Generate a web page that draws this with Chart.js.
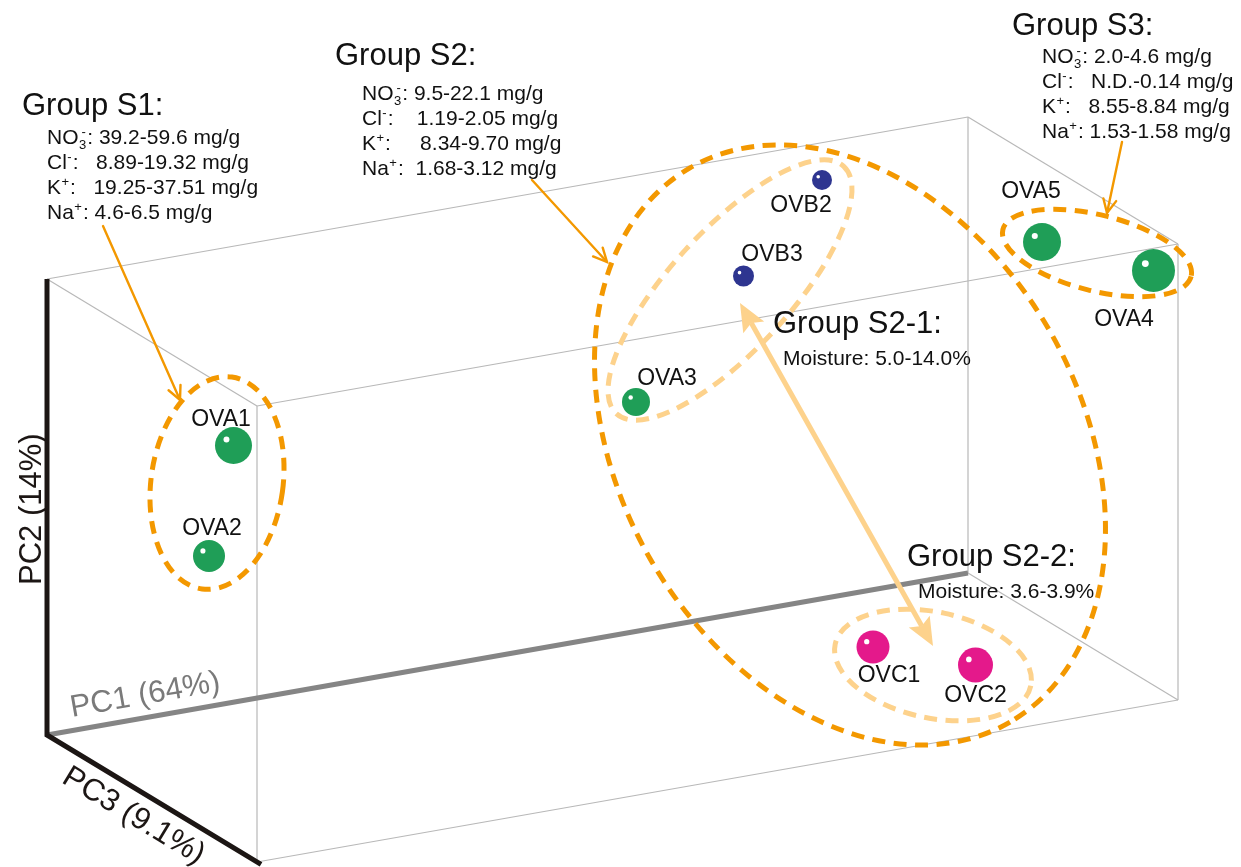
<!DOCTYPE html>
<html>
<head>
<meta charset="utf-8">
<script src="https://cdn.jsdelivr.net/npm/chart.js@4.4.1/dist/chart.umd.min.js"></script>
<style>
  html, body { margin: 0; padding: 0; background: #ffffff; }
  #wrap { width: 1241px; height: 867px; }
</style>
</head>
<body>
<div id="wrap"><canvas id="pca" width="1241" height="867"></canvas></div>
<script>
// ---- Sample scores, projected onto the drawing plane of the PC1/PC2/PC3 box ----
const sampleNames = ['OVA1', 'OVA2', 'OVA3', 'OVB3', 'OVB2', 'OVA5', 'OVA4', 'OVC1', 'OVC2'];
const sampleClass = ['A', 'A', 'A', 'B', 'B', 'A', 'A', 'C', 'C'];
const projX = [186.5, 162, 589, 696.5, 775, 995, 1106.5, 826, 928.5];
const projY = [289.5, 179, 333, 459, 555, 493, 464.5, 88, 70];

// ---- Axis titles (explained variance) ----
const axisTitles = ['PC1 (64%)', 'PC2 (14%)', 'PC3 (9.1%)'];

// ---- Ion contents of each group (mg/g) ----
const ionParts = [
  { base: 'NO', sub: '3', sup: '-' },
  { base: 'Cl', sup: '-' },
  { base: 'K', sup: '+' },
  { base: 'Na', sup: '+' }
];
const rangesS1 = ['39.2-59.6', '8.89-19.32', '19.25-37.51', '4.6-6.5'];
const rangesS2 = ['9.5-22.1', '1.19-2.05', '8.34-9.70', '1.68-3.12'];
const rangesS3 = ['2.0-4.6', 'N.D.-0.14', '8.55-8.84', '1.53-1.58'];
const moistureS21 = '5.0-14.0%';
const moistureS22 = '3.6-3.9%';

// ---- Styling ----
const FONT = '"Liberation Sans", Arial, Helvetica, sans-serif';
const classColor = { A: '#1f9e57', B: '#2e3590', C: '#e4198b' };
const markerRadius = [18.5, 16, 14, 10.5, 10, 19, 21.5, 16.5, 17.5];
const labelOffset = [[-12.5, -19.5], [3, -21], [31, -17], [28.5, -15], [-21, 32], [-11, -44], [-29.5, 55], [16, 35], [0, 37]];
const ORANGE = '#f39800';
const LIGHT = '#fdd28c';

// Box frame: origin and the three axis vectors in plane units
const axisVec = { pc1: [921, 162], pc2: [0, 456], pc3: [210, -127] };

// Group outlines (centre in plane units, semi-axes in px, clockwise tilt in degrees)
const outlines = [
  { c: [170, 252], a: 66, b: 107, rot: 8, color: ORANGE },
  { c: [803, 290], a: 320, b: 230, rot: 60, color: ORANGE },
  { c: [683, 445], a: 168, b: 60, rot: -47.4, color: LIGHT },
  { c: [886, 70], a: 100, b: 53, rot: 12, color: LIGHT },
  { c: [1050, 482], a: 97, b: 38, rot: 14, color: ORANGE }
];

// Pointer arrows from the group notes to their outlines
const pointers = [
  { from: [56, 509], to: [133, 335] },
  { from: [485, 555], to: [560, 473] },
  { from: [1075, 593], to: [1060, 522] }
];
const moistureLink = { from: [693, 432], to: [886, 89] };

// Group notes
const groupNotes = [
  { title: 'Group S1:', titleAt: [-25, 620], linesAt: [0, 591], ranges: rangesS1, pad: [1, 3, 3, 1] },
  { title: 'Group S2:', titleAt: [288, 670], linesAt: [315, 635], ranges: rangesS2, pad: [1, 4, 5, 2] },
  { title: 'Group S3:', titleAt: [965, 700], linesAt: [995, 672], ranges: rangesS3, pad: [1, 3, 3, 1] }
];
const moistureNotes = [
  { title: 'Group S2-1:', titleAt: [726, 402], lineAt: [736, 370], value: moistureS21 },
  { title: 'Group S2-2:', titleAt: [860, 169], lineAt: [871, 137], value: moistureS22 }
];

function add(...v) { return v.reduce((s, p) => [s[0] + p[0], s[1] + p[1]], [0, 0]); }

function toPx(chart, p) {
  return [chart.scales.x.getPixelForValue(p[0]), chart.scales.y.getPixelForValue(p[1])];
}

function line(ctx, a, b) {
  ctx.beginPath();
  ctx.moveTo(a[0], a[1]);
  ctx.lineTo(b[0], b[1]);
  ctx.stroke();
}

function drawIonLine(ctx, x, y, ion, rest, size) {
  ctx.font = size + 'px ' + FONT;
  ctx.fillText(ion.base, x, y);
  x += ctx.measureText(ion.base).width;
  const small = size * 0.62;
  ctx.font = small + 'px ' + FONT;
  let w = 0;
  if (ion.sub) {
    ctx.fillText(ion.sub, x + 0.5, y + size * 0.24);
    w = Math.max(w, ctx.measureText(ion.sub).width);
  }
  if (ion.sup) {
    const sx = ion.sub ? x + 3 : x + 0.5;
    ctx.fillText(ion.sup, sx, y - size * 0.4);
    w = Math.max(w, ctx.measureText(ion.sup).width + (ion.sub ? 2.5 : 0));
  }
  x += w + 1.5;
  ctx.font = size + 'px ' + FONT;
  ctx.fillText(rest, x, y);
}

const pcaFrame = {
  id: 'pcaFrame',
  beforeDatasetsDraw(chart) {
    const ctx = chart.ctx;
    const { pc1, pc2, pc3 } = axisVec;
    const O = [0, 0];
    const P = p => toPx(chart, p);
    ctx.save();

    // thin box edges
    ctx.strokeStyle = '#b8b8b8';
    ctx.lineWidth = 1.2;
    const edges = [
      [pc2, add(pc2, pc1)], [pc2, add(pc2, pc3)],
      [pc1, add(pc1, pc2)], [pc1, add(pc1, pc3)],
      [pc3, add(pc3, pc2)], [pc3, add(pc3, pc1)],
      [add(pc2, pc3), add(pc1, pc2, pc3)],
      [add(pc1, pc2), add(pc1, pc2, pc3)],
      [add(pc1, pc3), add(pc1, pc2, pc3)]
    ];
    edges.forEach(e => line(ctx, P(e[0]), P(e[1])));

    // PC1 axis (grey)
    ctx.strokeStyle = '#858585';
    ctx.lineWidth = 5;
    ctx.lineCap = 'butt';
    line(ctx, P(O), P(pc1));

    // PC2 and PC3 axes (black)
    ctx.strokeStyle = '#1c1614';
    ctx.lineWidth = 5;
    ctx.lineJoin = 'miter';
    ctx.beginPath();
    const t = P(pc2), o = P(O), f = P(add(pc3, [4, -2.4]));
    ctx.moveTo(t[0], t[1]);
    ctx.lineTo(o[0], o[1]);
    ctx.lineTo(f[0], f[1]);
    ctx.stroke();

    // axis titles
    const axisTitle = (text, at, angle, color) => {
      const q = P(at);
      ctx.save();
      ctx.translate(q[0], q[1]);
      ctx.rotate(angle);
      ctx.fillStyle = color;
      ctx.font = '31px ' + FONT;
      ctx.textBaseline = 'alphabetic';
      ctx.fillText(text, 0, 0);
      ctx.restore();
    };
    const ang = v => { const a = P(O), b = P(v); return Math.atan2(b[1] - a[1], b[0] - a[0]); };
    axisTitle(axisTitles[0], [25, 18], ang(pc1), '#7a7a7a');
    axisTitle(axisTitles[1], [-6, 150], ang(pc2), '#1c1614');
    axisTitle(axisTitles[2], [13.5, -47], ang(pc3), '#1c1614');

    // group outlines
    outlines.forEach(o2 => {
      const c = P(o2.c);
      ctx.beginPath();
      ctx.ellipse(c[0], c[1], o2.a, o2.b, o2.rot * Math.PI / 180, 0, Math.PI * 2);
      ctx.strokeStyle = o2.color;
      ctx.lineWidth = 5;
      ctx.setLineDash([13, 8.5]);
      ctx.stroke();
    });
    ctx.setLineDash([]);

    // pointer arrows
    ctx.strokeStyle = ORANGE;
    ctx.lineWidth = 2.4;
    ctx.lineCap = 'round';
    pointers.forEach(p => {
      const a = P(p.from), b = P(p.to);
      line(ctx, a, b);
      const th = Math.atan2(b[1] - a[1], b[0] - a[0]);
      const L = 15, s = 0.45;
      ctx.beginPath();
      ctx.moveTo(b[0] - L * Math.cos(th - s), b[1] - L * Math.sin(th - s));
      ctx.lineTo(b[0], b[1]);
      ctx.lineTo(b[0] - L * Math.cos(th + s), b[1] - L * Math.sin(th + s));
      ctx.stroke();
    });

    // double arrow linking the two moisture subgroups
    const a = P(moistureLink.from), b = P(moistureLink.to);
    const th = Math.atan2(b[1] - a[1], b[0] - a[0]);
    const ux = Math.cos(th), uy = Math.sin(th);
    const HL = 28, HW = 12, N = 5;
    ctx.strokeStyle = LIGHT;
    ctx.fillStyle = LIGHT;
    ctx.lineWidth = 5;
    ctx.lineCap = 'butt';
    line(ctx, [a[0] + ux * (HL - N), a[1] + uy * (HL - N)], [b[0] - ux * (HL - N), b[1] - uy * (HL - N)]);
    const head = (tip, dx, dy) => {
      ctx.beginPath();
      ctx.moveTo(tip[0], tip[1]);
      ctx.lineTo(tip[0] + dx * HL - dy * HW, tip[1] + dy * HL + dx * HW);
      ctx.lineTo(tip[0] + dx * (HL - N), tip[1] + dy * (HL - N));
      ctx.lineTo(tip[0] + dx * HL + dy * HW, tip[1] + dy * HL - dx * HW);
      ctx.closePath();
      ctx.fill();
    };
    head(a, ux, uy);
    head(b, -ux, -uy);
    ctx.restore();
  },
  afterDatasetsDraw(chart) {
    const ctx = chart.ctx;
    const P = p => toPx(chart, p);
    const meta = chart.getDatasetMeta(0);
    ctx.save();

    // glossy highlight and name of each sample
    meta.data.forEach((el, i) => {
      const r = markerRadius[i];
      ctx.beginPath();
      ctx.arc(el.x - 0.38 * r, el.y - 0.32 * r, Math.max(1.8, 0.16 * r), 0, Math.PI * 2);
      ctx.fillStyle = '#ffffff';
      ctx.fill();
      ctx.font = '23px ' + FONT;
      ctx.fillStyle = '#111111';
      ctx.textAlign = 'center';
      ctx.textBaseline = 'alphabetic';
      ctx.fillText(sampleNames[i], el.x + labelOffset[i][0], el.y + labelOffset[i][1]);
    });

    ctx.textAlign = 'left';
    ctx.fillStyle = '#111111';
    groupNotes.forEach(g => {
      const t = P(g.titleAt);
      ctx.font = '31px ' + FONT;
      ctx.fillText(g.title, t[0], t[1]);
      const l0 = P(g.linesAt);
      ionParts.forEach((ion, k) => {
        const rest = ':' + ' '.repeat(g.pad[k]) + g.ranges[k] + ' mg/g';
        drawIonLine(ctx, l0[0], l0[1] + k * 25, ion, rest, 21);
      });
    });
    moistureNotes.forEach(m => {
      const t = P(m.titleAt);
      ctx.font = '31px ' + FONT;
      ctx.fillText(m.title, t[0], t[1]);
      const l = P(m.lineAt);
      ctx.font = '21px ' + FONT;
      ctx.fillText('Moisture: ' + m.value, l[0], l[1]);
    });
    ctx.restore();
  }
};

const points = projX.map((x, i) => ({ x: x, y: projY[i] }));

new Chart(document.getElementById('pca'), {
  type: 'scatter',
  data: {
    datasets: [{
      label: 'samples',
      data: points,
      pointRadius: markerRadius,
      pointHoverRadius: markerRadius,
      pointBackgroundColor: sampleClass.map(c => classColor[c]),
      pointBorderWidth: 0,
      pointBorderColor: 'rgba(0,0,0,0)'
    }]
  },
  options: {
    responsive: false,
    maintainAspectRatio: false,
    devicePixelRatio: 1,
    animation: false,
    events: [],
    layout: { padding: 0, autoPadding: false },
    plugins: { legend: { display: false }, tooltip: { enabled: false } },
    scales: {
      x: { type: 'linear', min: -47, max: 1194, display: false },
      y: { type: 'linear', min: -132, max: 735, display: false }
    }
  },
  plugins: [pcaFrame]
});
</script>
</body>
</html>
